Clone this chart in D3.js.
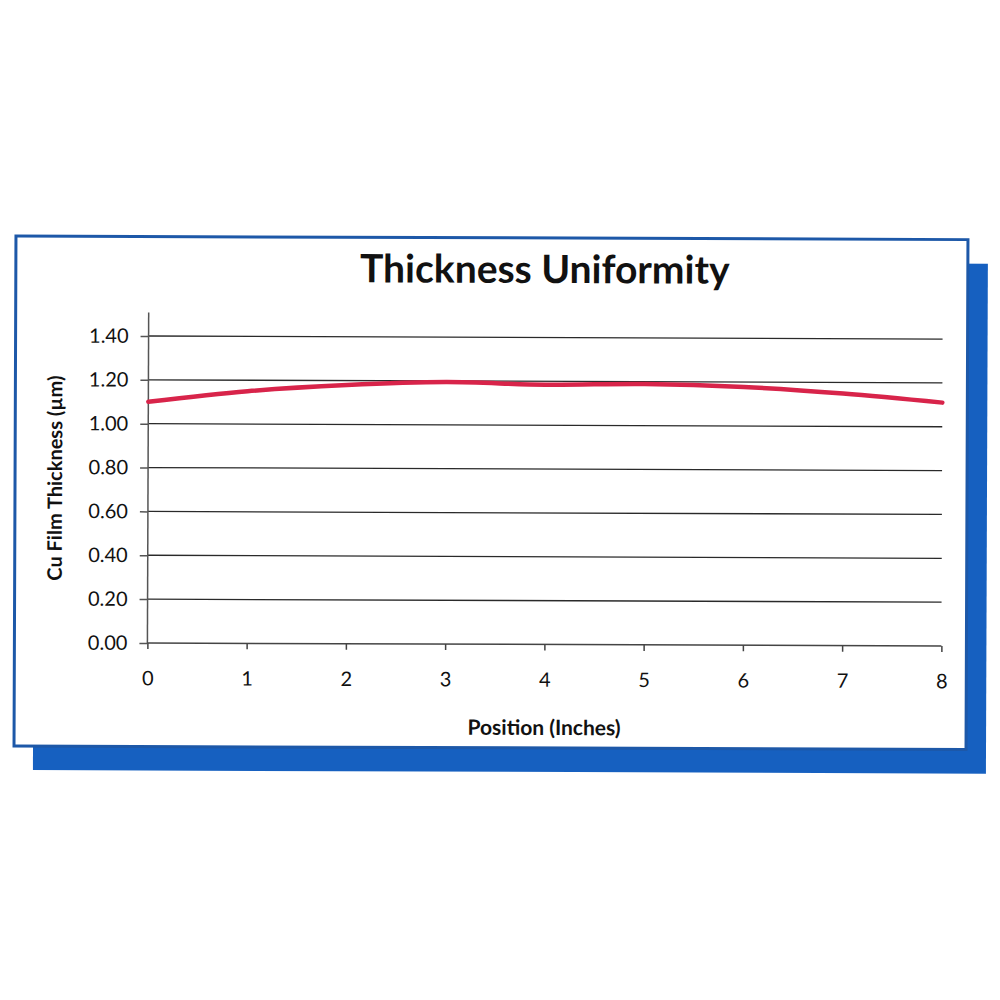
<!DOCTYPE html>
<html>
<head>
<meta charset="utf-8">
<script src="https://cdn.jsdelivr.net/npm/d3@7"></script>
<style>
  html, body { margin: 0; padding: 0; background: #fff; }
  svg { display: block; }
</style>
</head>
<body>
<svg id="chart" width="1000" height="1000"></svg>
<script>
const title = "Thickness Uniformity";
const xLabel = "Position (Inches)";
const yLabel = "Cu Film Thickness (µm)";
const positions = [0, 1, 2, 3, 4, 5, 6, 7, 8];
const thickness = [1.10, 1.15, 1.18, 1.195, 1.185, 1.19, 1.178, 1.15, 1.11];
const yTicks = [0, 0.2, 0.4, 0.6, 0.8, 1.0, 1.2, 1.4];
const xTicks = [0, 1, 2, 3, 4, 5, 6, 7, 8];

const svg = d3.select("#chart");
const g = svg.append("g").attr("transform", "rotate(0.22 545 490)");

// shadow and card
g.append("rect").attr("x", 34).attr("y", 262).attr("width", 953).attr("height", 510).attr("fill", "#1660c0");
g.append("rect").attr("x", 15).attr("y", 238).attr("width", 952).attr("height", 510)
  .attr("fill", "#fff").attr("stroke", "#1d58a8").attr("stroke-width", 3);

const x = d3.scaleLinear().domain([0, 8]).range([148, 942]);
const y = d3.scaleLinear().domain([0, 1.4]).range([644.5, 337.5]);

// gridlines
g.append("g").selectAll("line").data(yTicks.slice(1)).join("line")
  .attr("x1", x(0)).attr("x2", x(8)).attr("y1", d => y(d)).attr("y2", d => y(d))
  .attr("stroke", "#2a2a2a").attr("stroke-width", 1.3);

// y axis
const yAxis = g.append("g").attr("transform", `translate(${x(0)},0)`)
  .call(d3.axisLeft(y).tickValues(yTicks).tickFormat(d3.format(".2f")).tickSize(8).tickPadding(12));
yAxis.select(".domain").remove();
g.append("line").attr("x1", x(0)).attr("x2", x(0)).attr("y1", 314).attr("y2", y(0))
  .attr("stroke", "#555").attr("stroke-width", 1.5);
yAxis.selectAll(".tick line").attr("stroke", "#555").attr("stroke-width", 1.5);
yAxis.selectAll(".tick text").attr("font-family", "Lato, sans-serif").attr("font-size", 20).attr("fill", "#111");

// x axis
const xAxis = g.append("g").attr("transform", `translate(0,${y(0)})`)
  .call(d3.axisBottom(x).tickValues(xTicks).tickFormat(d3.format("d")).tickSize(6).tickPadding(22));
xAxis.select(".domain").attr("stroke", "#444").attr("stroke-width", 1.5).attr("d", `M${x(0)},0H${x(8)}`);
xAxis.selectAll(".tick line").attr("stroke", "#444").attr("stroke-width", 1.5);
xAxis.selectAll(".tick text").attr("font-family", "Lato, sans-serif").attr("font-size", 20).attr("fill", "#111");

// line
const line = d3.line().x((d, i) => x(positions[i])).y(d => y(d)).curve(d3.curveCatmullRom);
g.append("path").datum(thickness).attr("d", line)
  .attr("fill", "none").attr("stroke", "#d8244a").attr("stroke-width", 4.5).attr("stroke-linecap", "round");

// titles
g.append("text").attr("x", 544).attr("y", 283).attr("text-anchor", "middle")
  .attr("font-family", "Lato, sans-serif").attr("font-weight", "bold").attr("font-size", 39)
  .attr("fill", "#111").text(title);
g.append("text").attr("x", 545).attr("y", 735).attr("text-anchor", "middle")
  .attr("font-family", "Lato, sans-serif").attr("font-weight", "bold").attr("font-size", 21)
  .attr("fill", "#111").text(xLabel);
g.append("text").attr("transform", "translate(62,480) rotate(-90)").attr("text-anchor", "middle")
  .attr("font-family", "Lato, sans-serif").attr("font-weight", "bold").attr("font-size", 20)
  .attr("fill", "#111").text(yLabel);
</script>
</body>
</html>
